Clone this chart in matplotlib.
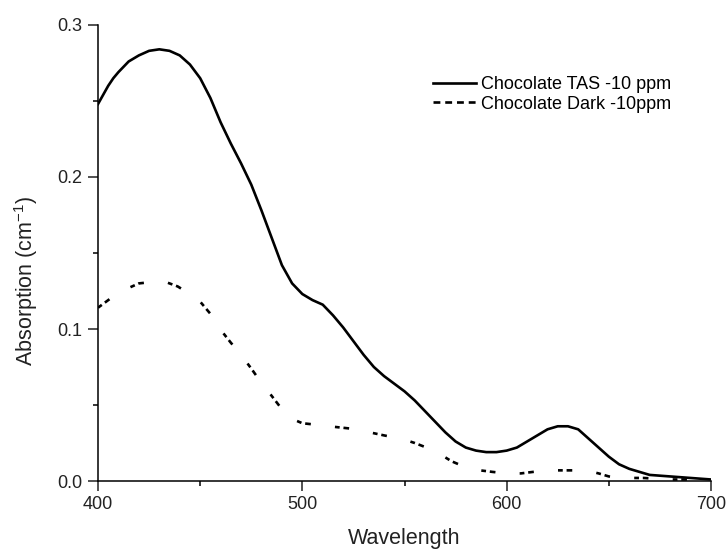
########################################
# %%
# LOAD PACKAGES

import numpy as np
import matplotlib
matplotlib.use('Agg')
import matplotlib.pyplot as plt
import matplotlib.ticker as ticker
from matplotlib.lines import Line2D

plt.rcParams.update({'font.family': ['Liberation Sans', 'DejaVu Sans'],
                     'mathtext.default': 'regular',
                     'font.size': 13})

########################################
# %%
# DATA

wl_tas = [400, 402.5, 405, 407.5, 410, 415, 420, 425, 430, 435, 440, 445,
          450, 455, 460, 465, 470, 475, 480, 485, 490, 495,
          500, 505, 510, 515, 520, 525, 530, 535, 540, 545,
          550, 555, 560, 565, 570, 575, 580, 585, 590, 595,
          600, 605, 610, 615, 620, 625, 630, 635, 640, 645,
          650, 655, 660, 665, 670, 680, 690, 700]
abs_tas = [0.248, 0.254, 0.260, 0.265, 0.269, 0.276, 0.280, 0.283, 0.284, 0.283, 0.280, 0.274,
           0.265, 0.252, 0.236, 0.222, 0.209, 0.195, 0.178, 0.160, 0.142, 0.130,
           0.123, 0.119, 0.116, 0.109, 0.101, 0.092, 0.083, 0.075, 0.069, 0.064,
           0.059, 0.053, 0.046, 0.039, 0.032, 0.026, 0.022, 0.020, 0.019, 0.019,
           0.020, 0.022, 0.026, 0.030, 0.034, 0.036, 0.036, 0.034, 0.028, 0.022,
           0.016, 0.011, 0.008, 0.006, 0.004, 0.003, 0.002, 0.001]

wl_dark = [400, 407, 415, 420, 427, 433, 439, 445, 450, 455,
           460, 465, 470, 475, 480, 485, 489, 493, 500, 507,
           513, 520, 527, 533, 540, 549, 555, 560, 567, 573,
           580, 587, 593, 600, 607, 613, 620, 627, 633, 640,
           645, 650, 655, 660, 667, 673, 681, 690, 700]
abs_dark = [0.114, 0.121, 0.127, 0.130, 0.131, 0.131, 0.128, 0.123, 0.118, 0.110,
            0.0995, 0.091, 0.083, 0.074, 0.0645, 0.056, 0.049, 0.042, 0.038, 0.037,
            0.036, 0.035, 0.034, 0.032, 0.030, 0.0276, 0.025, 0.0224, 0.018, 0.013,
            0.009, 0.007, 0.006, 0.005, 0.005, 0.006, 0.007, 0.007, 0.007, 0.0066,
            0.005, 0.003, 0.002, 0.002, 0.002, 0.0015, 0.001, 0.001, 0.0005]

labels = ['Chocolate TAS -10 ppm', 'Chocolate Dark -10ppm']

########################################
# %%
# FIGURE

fig = plt.figure(figsize=(7.28, 5.5), dpi=100)
ax = fig.add_axes([98 / 728, 1 - 481 / 550, 613 / 728, 456 / 550])

ax.plot(wl_tas, abs_tas, color='black', lw=1.9, solid_joinstyle='round')
ax.plot(wl_dark, abs_dark, color='black', lw=1.9,
        linestyle=(0, (1.8, 1.45, 2.15, 9.2)), dash_capstyle='butt')

ax.set_xlim(400, 700)
ax.set_ylim(0, 0.3)
ax.xaxis.set_major_locator(ticker.MultipleLocator(100))
ax.xaxis.set_minor_locator(ticker.MultipleLocator(50))
ax.yaxis.set_major_locator(ticker.MultipleLocator(0.1))
ax.yaxis.set_minor_locator(ticker.MultipleLocator(0.05))
ax.yaxis.set_major_formatter(ticker.FormatStrFormatter('%.1f'))

for side in ['top', 'right']:
    ax.spines[side].set_visible(False)
for side in ['left', 'bottom']:
    ax.spines[side].set_linewidth(1.1)
ax.tick_params(which='major', direction='out', length=7, width=1.1,
               labelsize=13, pad=4, colors='#222222')
ax.tick_params(which='minor', direction='out', length=3.5, width=1.1)

ax.set_xlabel('Wavelength', fontsize=15.5, color='#222222')
ax.set_ylabel('Absorption (cm$^{-1}$)', fontsize=15.5, color='#222222')
ax.xaxis.set_label_coords(0.5, -0.103)
ax.yaxis.set_label_coords(-0.095, 0.44)

handles = [Line2D([], [], color='black', lw=1.9),
           Line2D([], [], color='black', lw=1.9, linestyle=(0, (2.6, 1.85)))]
fig.legend(handles, labels, loc='upper left',
           bbox_to_anchor=(433 / 728, 1 - 76 / 550), frameon=False,
           borderpad=0, borderaxespad=0, handlelength=2.4,
           handletextpad=0.25, labelspacing=0.15, fontsize=13)

fig.savefig('out.png', dpi=100)
